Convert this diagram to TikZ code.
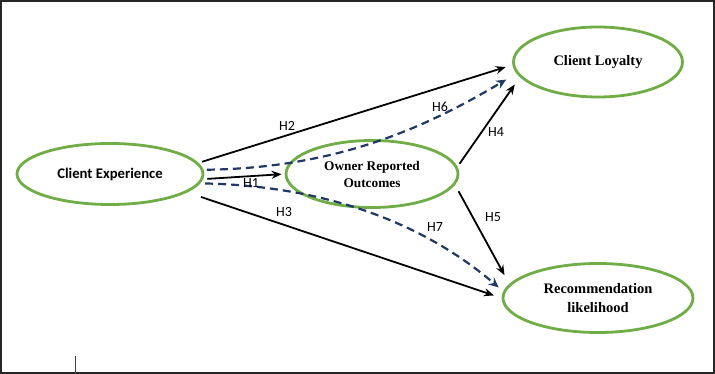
\documentclass[tikz,border=0pt]{standalone}
\usepackage{fontspec}
\setmainfont{Liberation Serif}
\newfontfamily\calib{Carlito}
\usetikzlibrary{shapes.geometric,arrows.meta}
\definecolor{ellgreen}{RGB}{112,173,71}
\definecolor{navy}{RGB}{31,56,100}
\begin{document}
\begin{tikzpicture}[x=1pt,y=-1pt,
  construct/.style={ellipse,draw=ellgreen,line width=2.8pt,inner sep=0pt,align=center,
     font=\fontsize{14.5}{19}\selectfont\bfseries},
  solidarrow/.style={line width=1.8pt,black,-{Stealth[length=10pt,width=8pt]}},
  dasharrow/.style={line width=2.2pt,navy,dash pattern=on 8pt off 5pt,-{Stealth[length=10pt,width=9pt]}},
  hlabel/.style={font=\calib\fontsize{14}{16}\selectfont,inner sep=0pt}]
\useasboundingbox (0,0) rectangle (715,374);
\draw[line width=1.6pt,black!85] (0.8,0.8) rectangle (714.2,373.2);
\node[construct,minimum width=186pt,minimum height=61pt,font=\calib\fontsize{14.7}{17}\selectfont\bfseries] (ce) at (110,174) {Client Experience};
\node[construct,minimum width=172pt,minimum height=67pt,font=\fontsize{13.3}{17}\selectfont\bfseries] (or) at (372,174) {Owner Reported\\Outcomes};
\node[construct,minimum width=169pt,minimum height=70pt] (cl) at (598,62) {Client Loyalty};
\node[construct,minimum width=190pt,minimum height=69pt] (rl) at (598,298) {Recommendation\\likelihood};
\coordinate (vt) at (75,356);
\coordinate (vb) at (75,374);
\draw[line width=1pt,black!75] (vt) -- (vb);
% solid arrows
\draw[solidarrow,shorten >=7pt] ([shift={(5,0)}]ce.8) -- (cl.182);
\draw[solidarrow,shorten >=3pt] ([shift={(4,0)}]ce.-3) -- (or.west);
\draw[solidarrow,shorten >=8pt] ([shift={(15,4)}]ce.-14) -- (rl.180);
\draw[solidarrow,shorten >=9pt] ([shift={(4,0)}]or.7) -- (cl.191);
\draw[solidarrow,shorten >=10pt] ([shift={(8,2)}]or.-11) -- (rl.171);
% dashed arrows
\draw[dasharrow,shorten >=12pt] ([shift={(3,-1)}]ce.2) .. controls (340,168) and (430,125) .. (cl.188);
\draw[dasharrow,shorten >=6pt] ([shift={(5,0)}]ce.-6) .. controls (320,186) and (420,220) .. (rl.176);
% labels
\node[hlabel] (h1) at (251,183) {H1};
\node[hlabel] (h2) at (287,126) {H2};
\node[hlabel] (h3) at (284,212) {H3};
\node[hlabel] (h4) at (496,132) {H4};
\node[hlabel] (h5) at (493,217) {H5};
\node[hlabel] (h6) at (440,107) {H6};
\node[hlabel] (h7) at (435,227) {H7};
\end{tikzpicture}
\end{document}
